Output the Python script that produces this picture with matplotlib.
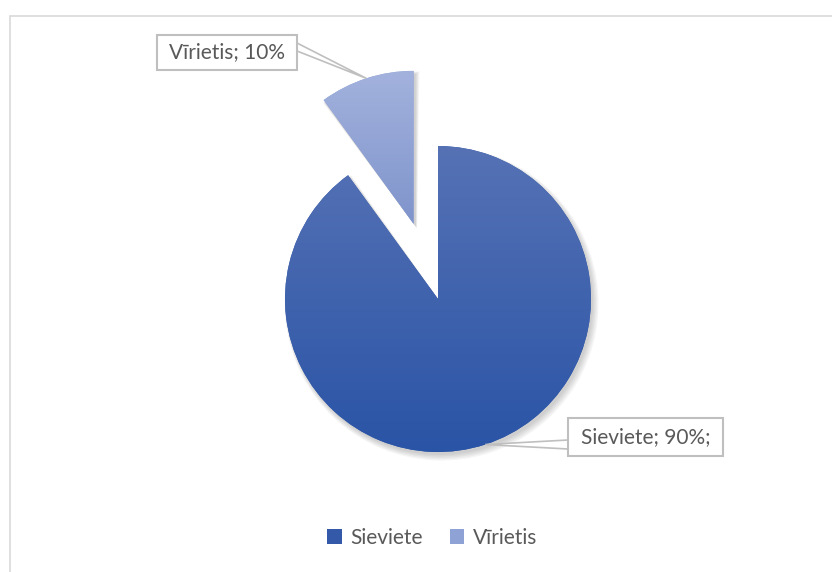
import numpy as np
import matplotlib.pyplot as plt
from matplotlib.patches import Rectangle, Polygon, Wedge
from matplotlib.colors import LinearSegmentedColormap

labels = ["Sieviete", "Vīrietis"]
shares = [90, 10]
label_texts = ["Sieviete; 90%;", "Vīrietis; 10%"]

top_cols = ["#5672B5", "#A3B2DD"]
bot_cols = ["#2A54A6", "#7F94CC"]
mid_cols = ["#3459A8", "#8FA2D5"]

W, H = 832, 572
R = 153
cx, cy = 438, H - 299

plt.rcParams["font.family"] = ["Lato", "DejaVu Sans"]
fig = plt.figure(figsize=(W / 100, H / 100), dpi=100)
ax = fig.add_axes([0, 0, 1, 1])

wedges, _ = ax.pie(shares, radius=R, center=(cx, cy), startangle=90,
                   counterclock=False, explode=[0, 79], colors=mid_cols,
                   wedgeprops=dict(linewidth=0))
ax.set_xlim(0, W)
ax.set_ylim(0, H)
ax.set_aspect("equal")
ax.set_autoscale_on(False)
ax.axis("off")

# soft shadow under each wedge, pushed to the lower right
for w in wedges:
    for k in range(5):
        s = Wedge((w.center[0] + 2 + k * 0.4, w.center[1] - 3 - k * 0.4),
                  w.r + k * 1.0, w.theta1 - k * 0.2, w.theta2 + k * 0.2,
                  facecolor="black", alpha=0.04, linewidth=0, zorder=0.5)
        ax.add_patch(s)

# vertical gradient fill clipped to each wedge
for w, t, b in zip(wedges, top_cols, bot_cols):
    w.set_zorder(1)
    x0, x1 = w.center[0] - w.r, w.center[0] + w.r
    verts = w.get_verts()
    y0, y1 = verts[:, 1].min(), verts[:, 1].max()
    cmap = LinearSegmentedColormap.from_list("g", [b, t])
    grad = np.linspace(0, 1, 256).reshape(-1, 1)
    im = ax.imshow(grad, cmap=cmap, origin="lower", aspect="auto",
                   extent=(x0, x1, y0, y1), zorder=2)
    im.set_clip_path(w)
ax.set_xlim(0, W)
ax.set_ylim(0, H)

# callout labels
box_specs = [
    # (x_left, y_top, width, height) in image pixels
    (568, 418, 155, 38),
    (157, 35, 140, 35),
]
for w, txt, (bx, by, bw, bh) in zip(wedges, label_texts, box_specs):
    th = np.deg2rad((w.theta1 + w.theta2) / 2)
    tip = (w.center[0] + w.r * np.cos(th), w.center[1] + w.r * np.sin(th))
    y_top = H - by
    y_bot = y_top - bh
    if tip[0] > bx:
        edge_x = bx + bw
        p1 = (edge_x, y_top - 8)
        p2 = (edge_x, y_top - 16)
    else:
        edge_x = bx
        p1 = (edge_x, y_bot + 16)
        p2 = (edge_x, y_bot + 7)
    ax.add_patch(Polygon([p1, tip, p2], closed=True, facecolor="white",
                         edgecolor="#BFBFBF", linewidth=1.2, zorder=4))
    ax.add_patch(Rectangle((bx, y_bot), bw, bh, facecolor="white",
                           edgecolor="#BFBFBF", linewidth=1.5, zorder=5))
    ax.text(bx + bw / 2, y_bot + bh / 2, txt, ha="center", va="center",
            fontsize=15, color="#595959", zorder=6)

# chart frame
ax.add_patch(Rectangle((10, -10), W + 10, H - 16 + 10, facecolor="none",
                       edgecolor="#D9D9D9", linewidth=1.2, zorder=0))

fig.legend(wedges, labels, loc="center", bbox_to_anchor=(432 / W, 1 - 538 / H),
           ncol=2, frameon=False, fontsize=15, labelcolor="#595959",
           handlelength=0.7, handleheight=0.7, handletextpad=0.4,
           columnspacing=1.3)

fig.savefig("out.png", dpi=100)
